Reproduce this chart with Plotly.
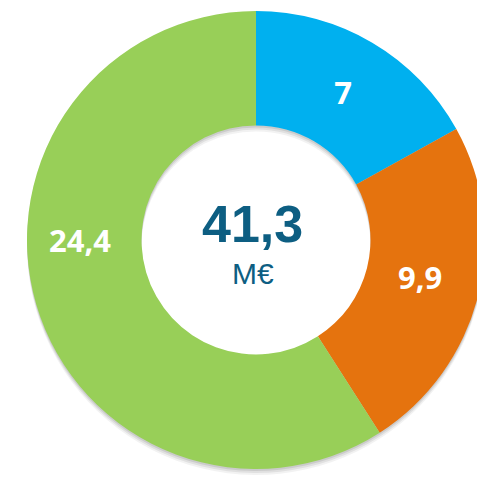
import plotly.graph_objects as go

labels = ["Bleu", "Orange", "Vert"]
values = [7.0, 9.9, 24.4]
value_labels = ["7", "9,9", "24,4"]
colors = ["#00B0EF", "#E5730E", "#98CF58"]
total_label = "41,3"
unit_label = "M€"

# la page html ajoute 8 px de marge : on dessine dans 477x471
OFF = 8
W, H = 485 - OFF, 479 - OFF
cx, cy, r = 256 - OFF, 240 - OFF, 229  # centre et rayon en pixels


def dom(dx=0, dy=0):
    x0 = (cx - r + dx) / W
    x1 = min((cx + r + dx) / W, 1.0)
    yb = H - cy - dy
    return {"x": [x0, x1], "y": [max((yb - r) / H, 0), (yb + r) / H]}


def px(x, y):
    return (x - OFF) / W, 1 - (y - OFF) / H


fig = go.Figure()

# ombre portée douce
for dy, alpha in [(6, 0.05), (4, 0.07), (2, 0.09)]:
    fig.add_trace(go.Pie(
        values=values, sort=False, direction="clockwise", hole=0.5,
        domain=dom(0, dy), marker={"colors": [f"rgba(0,0,0,{alpha})"] * 3, "line": {"width": 0}},
        textinfo="none", hoverinfo="skip", showlegend=False,
    ))

label_font = {"family": "Open Sans", "size": 31, "color": "white", "weight": 700}

fig.add_trace(go.Pie(
    labels=labels, values=values, sort=False, direction="clockwise", hole=0.5,
    domain=dom(), marker={"colors": colors, "line": {"width": 0}},
    text=value_labels, textinfo="text", textposition=["inside", "none", "none"],
    insidetextorientation="horizontal",
    textfont=label_font,
    showlegend=False,
))

ox, oy = px(420, 277)
gx, gy = px(80, 240)
tx, ty = px(253, 224)
ux, uy = px(253, 273)

def note(text, x, y, font):
    return {"text": text, "x": x, "y": y, "xref": "paper", "yref": "paper",
            "xanchor": "center", "yanchor": "middle", "showarrow": False, "font": font}

fig.update_layout(
    width=W, height=H,
    margin={"l": 0, "r": 0, "t": 0, "b": 0},
    paper_bgcolor="white",
    annotations=[
        note(value_labels[1], ox, oy, label_font),
        note(value_labels[2], gx, gy, label_font),
        note(total_label, tx, ty, {"family": "Liberation Sans", "size": 52, "color": "#0D5E82", "weight": 700}),
        note(unit_label, ux, uy, {"family": "Liberation Sans", "size": 30, "color": "#0D5E82"}),
    ],
)

fig.write_html("out.html")
